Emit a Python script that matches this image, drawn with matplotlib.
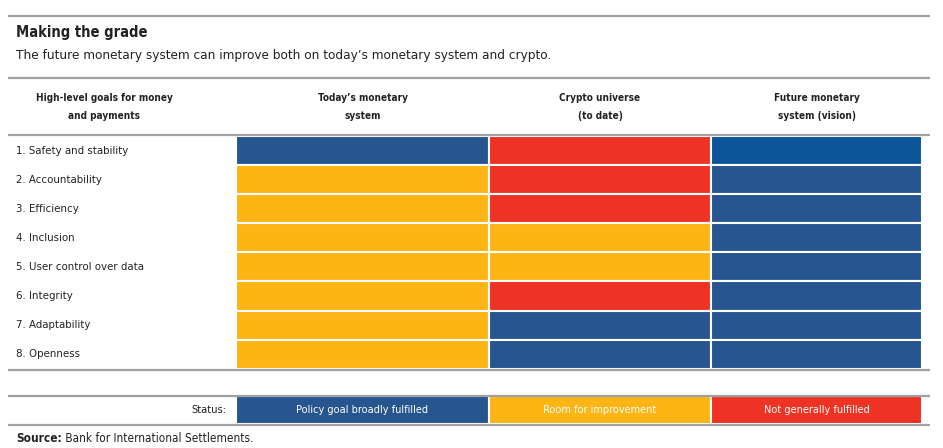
import matplotlib.pyplot as plt

goals = ["1. Safety and stability", "2. Accountability", "3. Efficiency", "4. Inclusion",
         "5. User control over data", "6. Integrity", "7. Adaptability", "8. Openness"]
columns = ["Today\u2019s monetary\nsystem", "Crypto universe\n(to date)", "Future monetary\nsystem (vision)"]
# F = broadly fulfilled, R = room for improvement, N = not generally fulfilled
today = ["F", "R", "R", "R", "R", "R", "R", "R"]
crypto = ["N", "N", "N", "R", "R", "N", "F", "F"]
future = ["F", "F", "F", "F", "F", "F", "F", "F"]
status_keys = ["F", "R", "N"]
status_labels = ["Policy goal broadly fulfilled", "Room for improvement", "Not generally fulfilled"]

colors = {"F": "#27558f", "R": "#fdb515", "N": "#ee3224"}
line_col = "#a0a0a0"

plt.rcParams['font.family'] = ["DejaVu Sans"]
plt.rcParams['font.stretch'] = "condensed"

W, H = 943, 448
fig = plt.figure(figsize=(W / 100, H / 100), dpi=100)
ax = fig.add_axes([0, 0, 1, 1])
ax.set_xlim(0, W)
ax.set_ylim(H, 0)
ax.axis("off")

# column geometry (pixels)
col_left = [236, 489, 711]
col_right = [489, 711, 922]
row_top = 136
row_h = 29.1

def hline(y, lw=1.6):
    ax.plot([8, 930], [y, y], color=line_col, lw=lw, solid_capstyle="butt")

hline(16)
ax.text(16, 33, "Making the grade", fontsize=10.5, fontweight="bold", va="center", color="#222222")
ax.text(16, 56, "The future monetary system can improve both on today\u2019s monetary system and crypto.",
        fontsize=9.7, va="center", color="#222222")
hline(78)

ax.text(104, 107, "High-level goals for money\nand payments", fontsize=7.2, fontweight="bold",
        ha="center", va="center", linespacing=2.0, color="#222222")
for c, name in enumerate(columns):
    ax.text((col_left[c] + col_right[c]) / 2, 107, name, fontsize=7.2, fontweight="bold",
            ha="center", va="center", linespacing=2.0, color="#222222")
hline(135)

for i, g in enumerate(goals):
    yc = row_top + row_h * (i + 0.5)
    ax.text(16, yc, g, fontsize=8.2, va="center", color="#222222")

for c, col in enumerate([today, crypto, future]):
    ys = [row_top + row_h * (i + 0.5) for i in range(len(col))]
    cols = [colors[s] for s in col]
    if c == 2:
        cols[0] = "#0b5598"
    ax.barh(ys, col_right[c] - col_left[c], left=col_left[c], height=row_h,
            color=cols, edgecolor="white", linewidth=1.5)

hline(row_top + row_h * 8 + 1)

# status legend
hline(396)
ax.text(226, 410, "Status:", fontsize=8, ha="right", va="center", color="#222222")
ax.barh([410] * 3, [col_right[i] - col_left[i] for i in range(3)], left=col_left, height=28,
        color=[colors[k] for k in status_keys], edgecolor="white", linewidth=1.5)
for i, lab in enumerate(status_labels):
    ax.text((col_left[i] + col_right[i]) / 2, 410, lab, fontsize=7.8, ha="center", va="center",
            color="white")
hline(425)

src = ax.text(16, 438, "Source:", fontsize=8.5, fontweight="bold", va="center", color="#222222")
ax.annotate(" Bank for International Settlements.", xy=(1, 0.5), xycoords=src, fontsize=8.5,
            va="center", color="#222222")

fig.savefig("out.png", dpi=100)
